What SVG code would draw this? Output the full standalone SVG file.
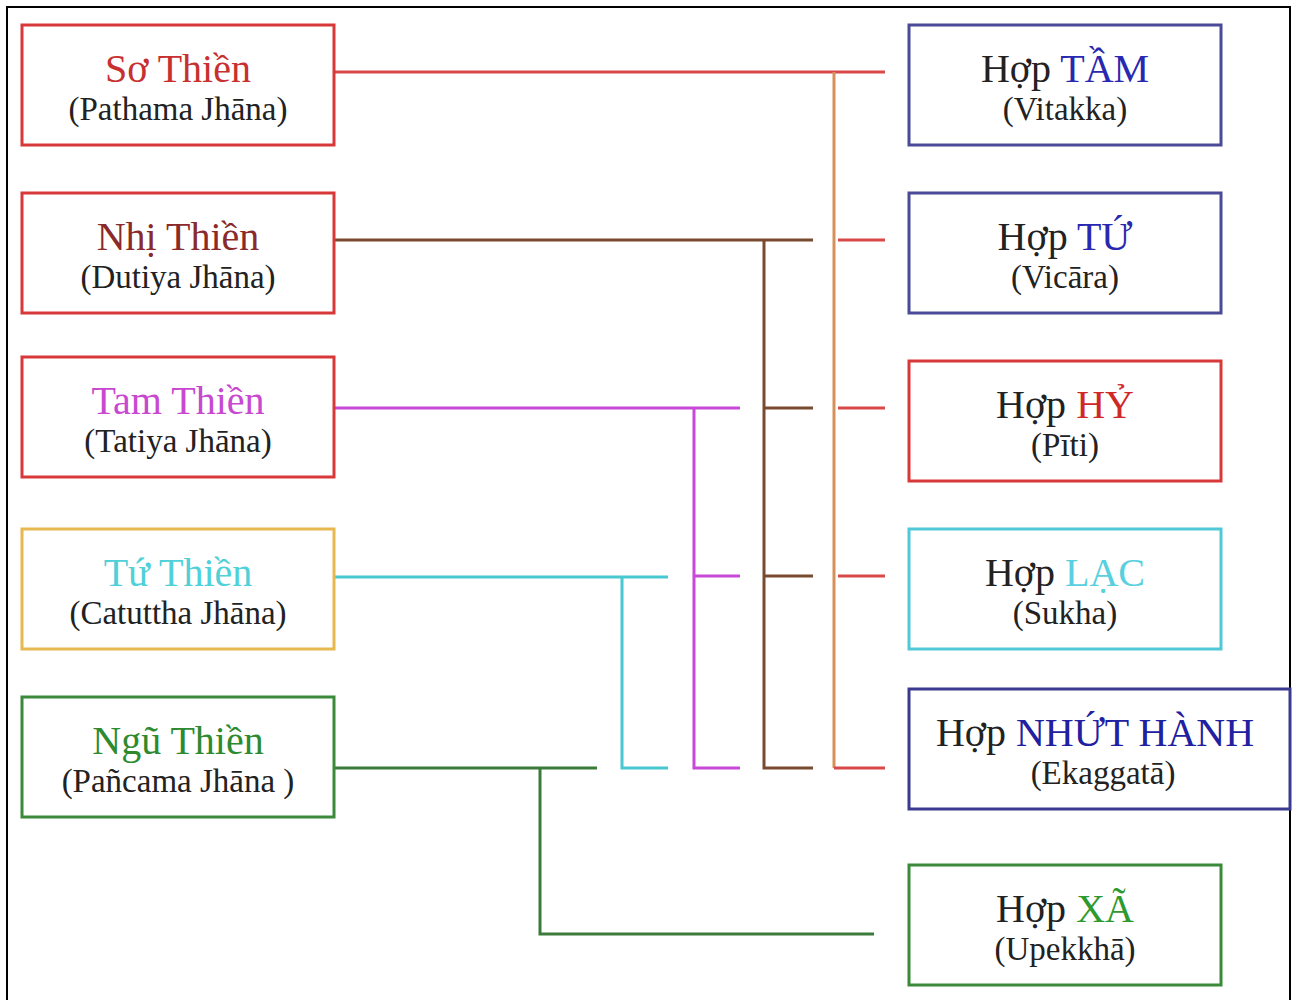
<svg xmlns="http://www.w3.org/2000/svg" width="1292" height="1000" viewBox="0 0 1292 1000">
<style>
.box{fill:#fff;stroke-width:3}
.t1{font-family:"Liberation Serif","Times New Roman",serif;font-size:40px;text-anchor:middle}
.t2{font-family:"Liberation Serif","Times New Roman",serif;font-size:33px;text-anchor:middle;fill:#222}
.c{fill:none;stroke-width:3}
</style>
<rect x="0" y="0" width="1292" height="1000" fill="#fff"/>
<rect x="7" y="7" width="1283" height="1010" fill="none" stroke="#000" stroke-width="2"/>
<g id="connectors">
<path class="c" stroke="#d84848" d="M334 72H885"/>
<path class="c" stroke="#d8905a" d="M834 72V768"/>
<path class="c" stroke="#d84848" d="M838 240H885M838 408H885M838 576H885M834 768H885"/>
<path class="c" stroke="#7a4a30" d="M334 240H813M764 240V768H813M764 408H813M764 576H813"/>
<path class="c" stroke="#c848d8" d="M334 408H740M694 408V768H740M694 576H740"/>
<path class="c" stroke="#48c8d0" d="M334 577H668M622 577V768H668"/>
<path class="c" stroke="#3a7a3a" d="M334 768H597M540 768V934H874"/>
</g>
<g id="so-thien"><rect class="box" x="22" y="25" width="312" height="120" stroke="#d83838"/>
<text class="t1" x="178" y="82" fill="#c83030">Sơ Thiền</text><text class="t2" x="178" y="120">(Pathama Jhāna)</text></g>
<g id="nhi-thien"><rect class="box" x="22" y="193" width="312" height="120" stroke="#d83838"/>
<text class="t1" x="178" y="250" fill="#8a2a2a">Nhị Thiền</text><text class="t2" x="178" y="288">(Dutiya Jhāna)</text></g>
<g id="tam-thien"><rect class="box" x="22" y="357" width="312" height="120" stroke="#d83838"/>
<text class="t1" x="178" y="414" fill="#c848d0">Tam Thiền</text><text class="t2" x="178" y="452">(Tatiya Jhāna)</text></g>
<g id="tu-thien"><rect class="box" x="22" y="529" width="312" height="120" stroke="#e8b850"/>
<text class="t1" x="178" y="586" fill="#50d0d8">Tứ Thiền</text><text class="t2" x="178" y="624">(Catuttha Jhāna)</text></g>
<g id="ngu-thien"><rect class="box" x="22" y="697" width="312" height="120" stroke="#3a8a3a"/>
<text class="t1" x="178" y="754" fill="#2e8a2e">Ngũ Thiền</text><text class="t2" x="178" y="792">(Pañcama Jhāna )</text></g>
<g id="hop-tam"><rect class="box" x="909" y="25" width="312" height="120" stroke="#4a4a98"/>
<text class="t1" x="1065" y="82" fill="#222">Hợp <tspan fill="#2828b0">TẦM</tspan></text><text class="t2" x="1065" y="120">(Vitakka)</text></g>
<g id="hop-tu"><rect class="box" x="909" y="193" width="312" height="120" stroke="#4a4a98"/>
<text class="t1" x="1065" y="250" fill="#222">Hợp <tspan fill="#2828b0">TỨ</tspan></text><text class="t2" x="1065" y="288">(Vicāra)</text></g>
<g id="hop-hy"><rect class="box" x="909" y="361" width="312" height="120" stroke="#d83838"/>
<text class="t1" x="1065" y="418" fill="#222">Hợp <tspan fill="#d02828">HỶ</tspan></text><text class="t2" x="1065" y="456">(Pīti)</text></g>
<g id="hop-lac"><rect class="box" x="909" y="529" width="312" height="120" stroke="#50c8d8"/>
<text class="t1" x="1065" y="586" fill="#222">Hợp <tspan fill="#58d0e0">LẠC</tspan></text><text class="t2" x="1065" y="624">(Sukha)</text></g>
<g id="hop-nhut-hanh"><rect class="box" x="909" y="689" width="381" height="120" stroke="#3a3a90"/>
<text class="t1" x="1095" y="746" fill="#222">Hợp <tspan fill="#2020a0">NHỨT HÀNH</tspan></text><text class="t2" x="1103" y="784">(Ekaggatā)</text></g>
<g id="hop-xa"><rect class="box" x="909" y="865" width="312" height="120" stroke="#3a8a3a"/>
<text class="t1" x="1065" y="922" fill="#222">Hợp <tspan fill="#2e9a2e">XÃ</tspan></text><text class="t2" x="1065" y="960">(Upekkhā)</text></g>
</svg>
